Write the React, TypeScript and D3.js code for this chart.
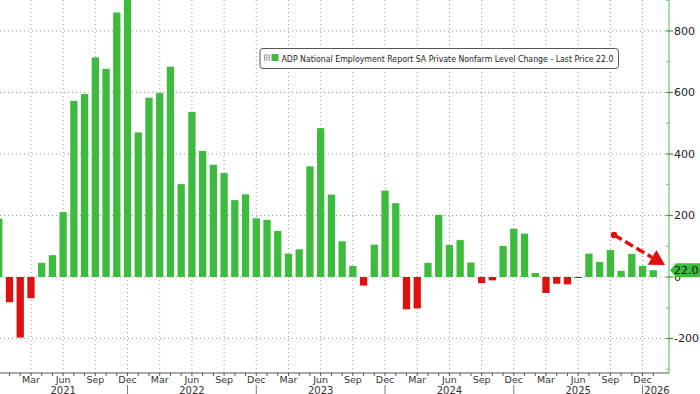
import React from "react";
import * as d3 from "d3";

const W = 700;
const H = 394;

// Months from Dec 2020 to Jan 2026
const monthNames = ["Jan","Feb","Mar","Apr","May","Jun","Jul","Aug","Sep","Oct","Nov","Dec"];
const startYear = 2020;
const startMonth = 11; // Dec
const values: number[] = [
  190,
  -82, -197, -69, 46, 71, 211, 573, 595, 714, 677, 860, 930,
  470, 583, 598, 684, 302, 537, 410, 365, 338, 250, 269, 191,
  186, 150, 76, 90, 360, 484, 268, 116, 36, -28, 105, 281,
  240, -105, -102, 46, 202, 104, 120, 47, -20, -11, 101, 157,
  141, 13, -52, -22, -24, -3, 76, 49, 88, 20, 75, 36,
  22,
];
const months = values.map((_, i) => {
  const m = (startMonth + i) % 12;
  const y = startYear + Math.floor((startMonth + i) / 12);
  return { key: `${y}-${m}`, m, y };
});
const quarterMonths = [2, 5, 8, 11]; // Mar Jun Sep Dec
const yMajorTicks = [-200, 0, 200, 400, 600, 800];
const yMinorTicks = [-300, -100, 100, 300, 500, 700, 900];
const lastPrice = 22.0;
const legendText = "ADP National Employment Report SA Private Nonfarm Level Change - Last Price 22.0";

const GREEN = "#3dbb3d";
const RED = "#e01010";

export default function App() {
  const axisX = 669;
  const axisY = 373;
  const x = d3
    .scaleBand<string>()
    .domain(months.map((d) => d.key))
    .range([-6.6, -6.6 + 10.73 * months.length])
    .paddingInner(0.32)
    .paddingOuter(0.16);
  const y = d3.scaleLinear().domain([-312.2, 900.8]).range([axisY, 0]);
  const cx = (k: string) => (x(k) as number) + x.bandwidth() / 2;

  const quarters = months.filter((d) => quarterMonths.includes(d.m));
  const labelQuarters = quarters.filter((d) => cx(d.key) > 8);
  const junes = months.filter((d) => d.m === 5);
  const decs = months.filter((d) => d.m === 11 && cx(d.key) > 2);

  const arrowStart = { x: 614, y: 235 };
  const arrowEnd = { x: 665, y: 265 };
  const ang = Math.atan2(arrowEnd.y - arrowStart.y, arrowEnd.x - arrowStart.x);
  const headLen = 15;
  const headW = 8.5;
  const bx = arrowEnd.x - headLen * Math.cos(ang);
  const by = arrowEnd.y - headLen * Math.sin(ang);
  const px = -Math.sin(ang) * headW;
  const py = Math.cos(ang) * headW;

  return (
    <div style={{ position: "fixed", left: 0, top: 0, width: W, height: H, background: "#fff" }}>
      <svg width={W} height={H} style={{ display: "block", fontFamily: "'DejaVu Sans', sans-serif" }}>
        <rect x={0} y={0} width={W} height={H} fill="#fff" />
        {/* gridlines */}
        {yMajorTicks.map((t) => (
          <line key={"hg" + t} x1={0} x2={axisX} y1={y(t)} y2={y(t)} stroke="#9a9a9a" strokeWidth={1} strokeDasharray="1,3" />
        ))}
        {quarters.map((d) => (
          <line key={"vg" + d.key} x1={cx(d.key)} x2={cx(d.key)} y1={0} y2={axisY} stroke="#9a9a9a" strokeWidth={1} strokeDasharray="1,3" />
        ))}
        {/* bars */}
        {months.map((d, i) => {
          const v = values[i];
          const y0 = y(0);
          const yv = y(v);
          return (
            <rect
              key={"b" + d.key}
              x={x(d.key)}
              width={x.bandwidth()}
              y={Math.min(y0, yv)}
              height={Math.max(1, Math.abs(yv - y0))}
              fill={v >= 0 ? GREEN : RED}
            />
          );
        })}
        {/* bottom axis */}
        <line x1={0} x2={axisX} y1={axisY} y2={axisY} stroke="#555" strokeWidth={1} />
        {months.map((d) => (
          <line key={"t" + d.key} x1={cx(d.key)} x2={cx(d.key)} y1={axisY} y2={axisY + 3} stroke="#555" strokeWidth={1} />
        ))}
        {labelQuarters.map((d) => (
          <text key={"ml" + d.key} x={cx(d.key)} y={383} textAnchor="middle" fontSize={9.5} fill="#333">
            {monthNames[d.m]}
          </text>
        ))}
        {junes.map((d) => (
          <text key={"yl" + d.key} x={cx(d.key)} y={393.5} textAnchor="middle" fontSize={10} fill="#333">
            {d.y}
          </text>
        ))}
        <text x={657} y={393.5} textAnchor="middle" fontSize={10} fill="#333">2026</text>
        {decs.map((d) => (
          <line key={"ys" + d.key} x1={cx(d.key)} x2={cx(d.key)} y1={385} y2={394} stroke="#777" strokeWidth={1} />
        ))}
        {/* right axis */}
        <line x1={axisX} x2={axisX} y1={0} y2={axisY} stroke="#6cc46c" strokeWidth={1.2} />
        {yMinorTicks.map((t) => (
          <line key={"mt" + t} x1={axisX - 3} x2={axisX} y1={y(t)} y2={y(t)} stroke="#6cc46c" strokeWidth={1} />
        ))}
        {yMajorTicks.map((t) => (
          <g key={"yt" + t}>
            <line x1={axisX - 3} x2={axisX + 4} y1={y(t)} y2={y(t)} stroke="#3a9a3a" strokeWidth={1.2} />
            <text x={axisX + 5} y={y(t) + 4} fontSize={11} fill="#222">{t}</text>
          </g>
        ))}
        {/* last price tag */}
        <polygon
          points={`${axisX + 1},${y(lastPrice)} ${axisX + 7},${y(lastPrice) - 7} ${W},${y(lastPrice) - 7} ${W},${y(lastPrice) + 7} ${axisX + 7},${y(lastPrice) + 7}`}
          fill={GREEN}
        />
        <text x={674} y={y(lastPrice) + 4} fontSize={11} fill="#111">{lastPrice.toFixed(1)}</text>
        {/* legend */}
        <rect x={260} y={48.5} width={358.5} height={20} rx={3} fill="#fff" stroke="#555" strokeWidth={1} />
        <rect x={264.5} y={55} width={5} height={5} fill="none" stroke="#888" strokeWidth={0.8} />
        <line x1={265.5} x2={268.5} y1={57.5} y2={57.5} stroke="#888" strokeWidth={0.6} />
        <line x1={267} x2={267} y1={56} y2={59} stroke="#888" strokeWidth={0.6} />
        <rect x={271.5} y={54} width={7} height={7} fill={GREEN} />
        <text x={281.5} y={62} fontSize={9.5} fill="#222" textLength={332} lengthAdjust="spacingAndGlyphs">
          {legendText}
        </text>
        {/* red arrow annotation */}
        <circle cx={arrowStart.x} cy={arrowStart.y} r={3.2} fill={RED} />
        <line x1={arrowStart.x} y1={arrowStart.y} x2={bx} y2={by} stroke={RED} strokeWidth={3.5} strokeDasharray="9,4" />
        <polygon points={`${arrowEnd.x},${arrowEnd.y} ${bx + px},${by + py} ${bx - px},${by - py}`} fill={RED} />
      </svg>
    </div>
  );
}
